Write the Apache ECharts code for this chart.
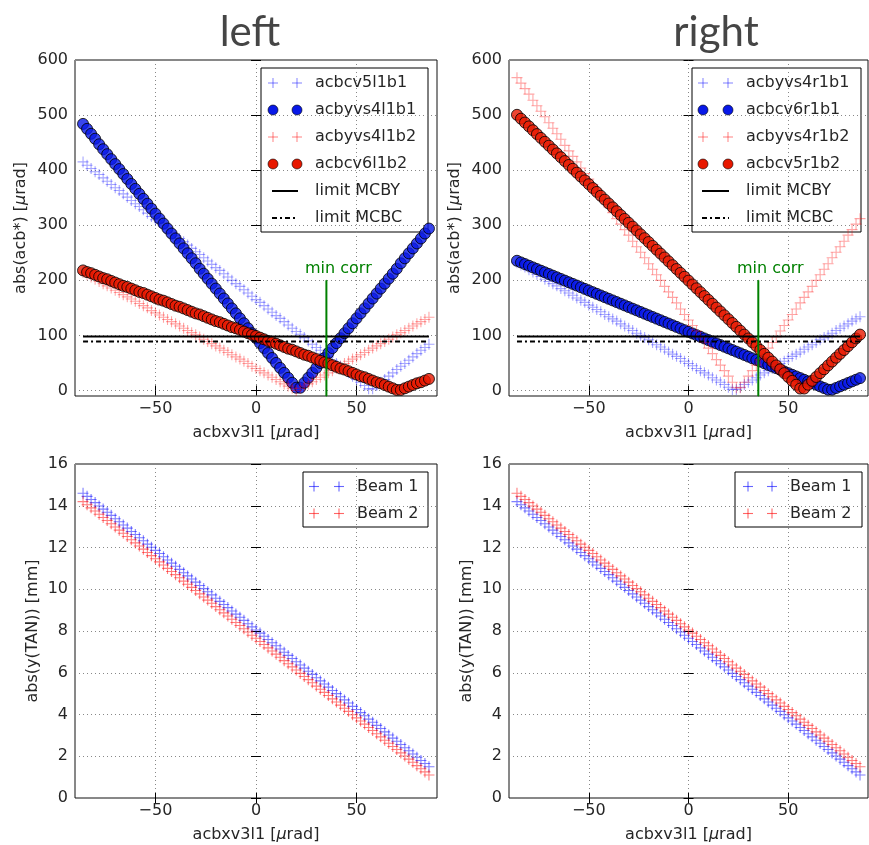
<!DOCTYPE html>
<html>
<head>
<meta charset="utf-8">
<script src="https://cdn.jsdelivr.net/npm/echarts@6/dist/echarts.min.js"></script>
<style>
  html, body { margin: 0; padding: 0; background: #fff; }
  #chart { width: 869px; height: 845px; }
</style>
</head>
<body>
<div id="chart"></div>
<script>
// Scan variable: acbxv3l1 [µrad]
const xValues = [-86,-84,-82,-80,-78,-76,-74,-72,-70,-68,-66,-64,-62,-60,-58,-56,-54,-52,-50,-48,
  -46,-44,-42,-40,-38,-36,-34,-32,-30,-28,-26,-24,-22,-20,-18,-16,-14,-12,-10,-8,-6,-4,-2,
  0,2,4,6,8,10,12,14,16,18,20,22,24,26,28,30,32,34,36,38,40,42,44,46,48,50,52,54,56,58,60,
  62,64,66,68,70,72,74,76,78,80,82,84,86];

// Left side correctors, abs(acb*) [µrad]
const acbcv5l1b1 = [415,409,403,397,392,386,380,374,368,363,
  357,351,345,339,334,328,322,316,310,305,
  299,293,287,281,276,270,264,258,252,247,
  241,235,229,223,218,212,206,200,194,189,
  183,177,171,165,160,154,148,142,136,131,
  125,119,113,107,102,96,90,84,78,73,
  67,61,55,49,44,38,32,26,20,15,
  9,3,
  3,9,15,20,26,32,38,44,49,55,61,67,73,78,84];
const acbyvs4l1b1 = [484,475,466,457,447,438,429,420,411,402,
  393,384,375,366,357,348,339,330,321,312,
  303,294,285,276,267,258,249,240,231,221,
  212,203,194,185,176,167,158,149,140,131,
  122,113,104,95,86,77,68,59,50,41,
  32,23,14,5,
  5,14,23,32,41,50,59,68,77,86,
  95,104,113,122,131,140,149,158,167,176,
  185,194,203,212,221,231,240,249,258,267,
  276,285,294];
const acbyvs4l1b2 = [214,210,206,202,198,194,190,186,182,178,
  174,170,166,162,158,154,150,145,141,137,
  133,129,125,121,117,113,109,105,101,97,
  93,89,85,81,77,73,69,65,61,57,
  53,49,44,40,36,32,28,24,20,16,
  12,8,4,0,
  4,8,12,16,20,24,28,32,36,40,
  44,49,53,57,61,65,69,73,77,81,
  85,89,93,97,101,105,109,113,117,121,
  125,129,133];
const acbcv6l1b2 = [218,215,213,210,207,204,202,199,196,193,
  190,188,185,182,179,177,174,171,168,165,
  163,160,157,154,152,149,146,143,140,138,
  135,132,129,126,124,121,118,115,113,110,
  107,104,101,99,96,93,90,88,85,82,
  79,76,74,71,68,65,63,60,57,54,
  51,49,46,43,40,38,35,32,29,26,
  24,21,18,15,13,10,7,4,1,
  1,4,7,10,13,15,18,21];

// Right side correctors, abs(acb*) [µrad]
const acbyvs4r1b1 = [232,228,224,219,215,211,207,202,198,194,
  190,185,181,177,173,168,164,160,155,151,
  147,143,138,134,130,126,121,117,113,109,
  104,100,96,92,87,83,79,75,70,66,
  62,58,53,49,45,40,36,32,28,23,
  19,15,11,6,2,
  2,6,11,15,19,23,28,32,36,40,
  45,49,53,58,62,66,70,75,79,83,
  87,92,96,100,104,109,113,117,121,126,
  130,134];
const acbcv6r1b1 = [235.5,232.5,229.5,226.5,223.5,220.5,217.5,214.5,211.5,208.5,
  205.5,202.5,199.5,196.5,193.5,190.5,187.5,184.5,181.5,178.5,
  175.5,172.5,169.5,166.5,163.5,160.5,157.5,154.5,151.5,148.5,
  145.5,142.5,139.5,136.5,133.5,130.5,127.5,124.5,121.5,118.5,
  115.5,112.5,109.5,106.5,103.5,100.5,97.5,94.5,91.5,88.5,
  85.5,82.5,79.5,76.5,73.5,70.5,67.5,64.5,61.5,58.5,
  55.5,52.5,49.5,46.5,43.5,40.5,37.5,34.5,31.5,28.5,
  25.5,22.5,19.5,16.5,13.5,10.5,7.5,4.5,1.5,
  1.5,4.5,7.5,10.5,13.5,16.5,19.5,22.5];
const acbyvs4r1b2 = [568,558,548,538,527,517,507,497,486,476,
  466,456,445,435,425,415,404,394,384,374,
  364,353,343,333,323,312,302,292,282,271,
  261,251,241,230,220,210,200,189,179,169,
  159,148,138,128,118,108,97,87,77,67,
  56,46,36,26,15,5,
  5,15,26,36,46,56,67,77,87,97,
  108,118,128,138,148,159,169,179,189,200,
  210,220,230,241,251,261,271,282,292,302,
  312];
const acbcv5r1b2 = [500.5,493.5,486.5,479.5,472.5,465.5,458.5,451.5,444.5,437.5,
  430.5,423.5,416.5,409.5,402.5,395.5,388.5,381.5,374.5,367.5,
  360.5,353.5,346.5,339.5,332.5,325.5,318.5,311.5,304.5,297.5,
  290.5,283.5,276.5,269.5,262.5,255.5,248.5,241.5,234.5,227.5,
  220.5,213.5,206.5,199.5,192.5,185.5,178.5,171.5,164.5,157.5,
  150.5,143.5,136.5,129.5,122.5,115.5,108.5,101.5,94.5,87.5,
  80.5,73.5,66.5,59.5,52.5,45.5,38.5,31.5,24.5,17.5,
  10.5,3.5,
  3.5,10.5,17.5,24.5,31.5,38.5,45.5,52.5,59.5,66.5,73.5,80.5,87.5,94.5,101.5];

// abs(y(TAN)) [mm] for both beams
const beam1Left = [14.60,14.45,14.30,14.15,13.99,13.84,13.69,13.54,13.38,13.23,
  13.08,12.93,12.77,12.62,12.47,12.32,12.16,12.01,11.86,11.71,
  11.56,11.40,11.25,11.10,10.95,10.79,10.64,10.49,10.34,10.18,
  10.03,9.88,9.73,9.57,9.42,9.27,9.12,8.96,8.81,8.66,
  8.51,8.35,8.20,8.05,7.90,7.75,7.59,7.44,7.29,7.14,
  6.98,6.83,6.68,6.53,6.37,6.22,6.07,5.92,5.76,5.61,
  5.46,5.31,5.15,5.00,4.85,4.70,4.55,4.39,4.24,4.09,
  3.94,3.78,3.63,3.48,3.33,3.17,3.02,2.87,2.72,2.56,
  2.41,2.26,2.11,1.95,1.80,1.65,1.50];
const beam2Left = [14.20,14.05,13.90,13.75,13.59,13.44,13.29,13.14,12.98,12.83,
  12.68,12.53,12.37,12.22,12.07,11.92,11.76,11.61,11.46,11.31,
  11.16,11.00,10.85,10.70,10.55,10.39,10.24,10.09,9.94,9.78,
  9.63,9.48,9.33,9.17,9.02,8.87,8.72,8.56,8.41,8.26,
  8.11,7.95,7.80,7.65,7.50,7.35,7.19,7.04,6.89,6.74,
  6.58,6.43,6.28,6.13,5.97,5.82,5.67,5.52,5.36,5.21,
  5.06,4.91,4.75,4.60,4.45,4.30,4.15,3.99,3.84,3.69,
  3.54,3.38,3.23,3.08,2.93,2.77,2.62,2.47,2.32,2.16,
  2.01,1.86,1.71,1.55,1.40,1.25,1.10];
const beam1Right = beam2Left;
const beam2Right = beam1Left;

// Strength limits, minimum-correction setting and scan extent
const limitMCBY = 98;
const limitMCBC = 89;
const minCorr = 35;
const minCorrTop = 200;
const scanExtent = [-86, 86];

// Tick labels
const xTicks = [-50, 0, 50];
const yTicksTop = [0, 100, 200, 300, 400, 500, 600];
const yTicksBottom = [0, 2, 4, 6, 8, 10, 12, 14, 16];

const panelTitles = ['left', 'right'];
const legendTop = [
  ['acbcv5l1b1', 'acbyvs4l1b1', 'acbyvs4l1b2', 'acbcv6l1b2', 'limit MCBY', 'limit MCBC'],
  ['acbyvs4r1b1', 'acbcv6r1b1', 'acbyvs4r1b2', 'acbcv5r1b2', 'limit MCBY', 'limit MCBC']
];
const legendBottom = ['Beam 1', 'Beam 2'];

const FONT = 'DejaVu Sans';
const TXT = '#262626';
const BLUE = '#0000ff';
const RED = '#ff0000';
const DOT_BLUE = '#0818e8';
const DOT_RED = '#e81800';
const GREEN = '#008000';
const PLUS = 'path://M-0.1,-1L0.1,-1L0.1,-0.1L1,-0.1L1,0.1L0.1,0.1L0.1,1L-0.1,1L-0.1,0.1L-1,0.1L-1,-0.1L-0.1,-0.1Z';

const pairs = ys => xValues.map((x, i) => [x, ys[i]]);
const fmtX = v => (v < 0 ? '\u2212' + Math.abs(v) : String(v));

const grids = [
  { left: 75, top: 60, width: 362, height: 336 },
  { left: 509, top: 60, width: 359, height: 336 },
  { left: 75, top: 464, width: 362, height: 334 },
  { left: 509, top: 464, width: 359, height: 334 }
];

const muRich = { mu: { fontStyle: 'italic', fontSize: 16, fontFamily: FONT, color: TXT } };

function mainX(i) {
  return {
    type: 'value', gridIndex: i, min: -90, max: 90,
    name: 'acbxv3l1 [{mu|\u03bc}rad]', nameLocation: 'middle', nameGap: 29,
    nameTextStyle: { fontSize: 16, fontFamily: FONT, color: TXT, rich: muRich },
    axisLine: { show: false },
    axisTick: { show: true, inside: true, length: 5, customValues: xTicks, lineStyle: { color: '#000' } },
    axisLabel: { customValues: xTicks, formatter: fmtX, fontSize: 16, fontFamily: FONT, color: TXT, margin: 5 },
    splitLine: { show: true, lineStyle: { color: '#888', width: 1, type: [1, 3] } }
  };
}
function mirrorX(i) {
  return {
    type: 'value', gridIndex: i, min: -90, max: 90, position: 'top',
    axisLine: { show: false },
    axisTick: { show: true, inside: true, length: 5, customValues: xTicks, lineStyle: { color: '#000' } },
    axisLabel: { show: false, customValues: xTicks },
    splitLine: { show: false }
  };
}
function mainY(i, top) {
  const ticks = top ? yTicksTop : yTicksBottom;
  return {
    type: 'value', gridIndex: i, min: top ? -10 : 0, max: top ? 600 : 16,
    name: top ? 'abs(acb*) [{mu|\u03bc}rad]' : 'abs(y(TAN)) [mm]',
    nameLocation: 'middle', nameRotate: 90, nameGap: top ? 46 : 34,
    nameTextStyle: { fontSize: 16, fontFamily: FONT, color: TXT, rich: muRich },
    axisLine: { show: false },
    axisTick: { show: true, inside: true, length: 5, customValues: ticks, lineStyle: { color: '#000' } },
    axisLabel: { customValues: ticks, fontSize: 16, fontFamily: FONT, color: TXT, margin: 7 },
    splitLine: { show: true, lineStyle: { color: '#888', width: 1, type: [1, 3] } }
  };
}
function mirrorY(i, top) {
  const ticks = top ? yTicksTop : yTicksBottom;
  return {
    type: 'value', gridIndex: i, min: top ? -10 : 0, max: top ? 600 : 16, position: 'right',
    axisLine: { show: false },
    axisTick: { show: true, inside: true, length: 5, customValues: ticks, lineStyle: { color: '#000' } },
    axisLabel: { show: false, customValues: ticks },
    splitLine: { show: false }
  };
}

function plusSeries(i, ys, color, opacity) {
  return {
    type: 'scatter', xAxisIndex: i, yAxisIndex: i, data: pairs(ys),
    symbol: PLUS, symbolSize: 11, silent: true,
    itemStyle: { color: color, opacity: opacity }
  };
}
function dotSeries(i, ys, color) {
  return {
    type: 'scatter', xAxisIndex: i, yAxisIndex: i, data: pairs(ys),
    symbol: 'circle', symbolSize: 11, silent: true,
    itemStyle: { color: color, borderColor: '#000', borderWidth: 1 }
  };
}
function limitSeries(i, value, dash) {
  return {
    type: 'line', xAxisIndex: i, yAxisIndex: i, silent: true, symbol: 'none',
    data: [[scanExtent[0], value], [scanExtent[1], value]],
    lineStyle: { color: '#000', width: 2, type: dash ? [5, 3, 2, 3] : 'solid' }
  };
}
function minCorrSeries(i) {
  return {
    type: 'line', xAxisIndex: i, yAxisIndex: i, silent: true,
    symbol: 'circle', symbolSize: 1, showSymbol: true,
    itemStyle: { color: GREEN },
    data: [[minCorr, -10], {
      value: [minCorr, minCorrTop],
      label: { show: true, position: 'top', distance: 3, offset: [12, 0], formatter: 'min corr',
               color: GREEN, fontSize: 16, fontFamily: FONT }
    }],
    lineStyle: { color: GREEN, width: 2 }
  };
}

const series = [
  plusSeries(0, acbcv5l1b1, BLUE, 0.35),
  dotSeries(0, acbyvs4l1b1, DOT_BLUE),
  plusSeries(0, acbyvs4l1b2, RED, 0.35),
  dotSeries(0, acbcv6l1b2, DOT_RED),
  limitSeries(0, limitMCBY, false),
  limitSeries(0, limitMCBC, true),
  minCorrSeries(0),

  plusSeries(1, acbyvs4r1b1, BLUE, 0.35),
  dotSeries(1, acbcv6r1b1, DOT_BLUE),
  plusSeries(1, acbyvs4r1b2, RED, 0.35),
  dotSeries(1, acbcv5r1b2, DOT_RED),
  limitSeries(1, limitMCBY, false),
  limitSeries(1, limitMCBC, true),
  minCorrSeries(1),

  plusSeries(2, beam1Left, BLUE, 0.5),
  plusSeries(2, beam2Left, RED, 0.5),
  plusSeries(3, beam1Right, BLUE, 0.5),
  plusSeries(3, beam2Right, RED, 0.5)
];

// Legend boxes drawn as graphics (two sample markers per entry)
function plusGlyph(cx, cy, color, opacity) {
  return [
    { type: 'line', shape: { x1: cx - 5, y1: cy, x2: cx + 5, y2: cy }, style: { stroke: color, lineWidth: 1.1, opacity: opacity } },
    { type: 'line', shape: { x1: cx, y1: cy - 5, x2: cx, y2: cy + 5 }, style: { stroke: color, lineWidth: 1.1, opacity: opacity } }
  ];
}
function dotGlyph(cx, cy, color) {
  return [{ type: 'circle', shape: { cx: cx, cy: cy, r: 5 }, style: { fill: color, stroke: '#000', lineWidth: 0.6 } }];
}
function buildLegend(box, mx1, mx2, tx, y0, step, entries) {
  const kids = [{ type: 'rect', shape: box, style: { fill: '#fff', stroke: '#000', lineWidth: 1 } }];
  entries.forEach((e, k) => {
    const y = y0 + k * step;
    if (e.kind === 'plus') {
      kids.push(...plusGlyph(mx1, y, e.color, e.opacity), ...plusGlyph(mx2, y, e.color, e.opacity));
    } else if (e.kind === 'dot') {
      kids.push(...dotGlyph(mx1, y, e.color), ...dotGlyph(mx2, y, e.color));
    } else {
      kids.push({ type: 'line', shape: { x1: mx1 - 1, y1: y, x2: mx2 + 1, y2: y },
        style: { stroke: '#000', lineWidth: 2, lineDash: e.kind === 'dashdot' ? [5, 3, 2, 3] : null } });
    }
    kids.push({ type: 'text', x: tx, y: y,
      style: { text: e.label, fontSize: 16, fontFamily: FONT, fill: TXT, verticalAlign: 'middle', align: 'left' } });
  });
  return { type: 'group', z: 100, children: kids };
}

const topKinds = [
  { kind: 'plus', color: BLUE, opacity: 0.45 },
  { kind: 'dot', color: DOT_BLUE },
  { kind: 'plus', color: RED, opacity: 0.45 },
  { kind: 'dot', color: DOT_RED },
  { kind: 'solid' },
  { kind: 'dashdot' }
];
const botKinds = [
  { kind: 'plus', color: BLUE, opacity: 0.6 },
  { kind: 'plus', color: RED, opacity: 0.6 }
];

const graphic = [
  { type: 'text', x: 250, y: 32, z: 100,
    style: { text: panelTitles[0], fontSize: 42, fontFamily: 'Lato', fill: '#454545', align: 'center', verticalAlign: 'middle' } },
  { type: 'text', x: 716, y: 32, z: 100,
    style: { text: panelTitles[1], fontSize: 42, fontFamily: 'Lato', fill: '#454545', align: 'center', verticalAlign: 'middle' } },
  buildLegend({ x: 261, y: 68, width: 167, height: 164 }, 273, 297, 315, 83, 27,
    legendTop[0].map((t, k) => Object.assign({ label: t }, topKinds[k]))),
  buildLegend({ x: 692, y: 68, width: 169, height: 164 }, 703, 728, 746, 83, 27,
    legendTop[1].map((t, k) => Object.assign({ label: t }, topKinds[k]))),
  buildLegend({ x: 303, y: 472, width: 125, height: 55 }, 314, 339, 357, 486.5, 27,
    legendBottom.map((t, k) => Object.assign({ label: t }, botKinds[k]))),
  buildLegend({ x: 735, y: 472, width: 127, height: 55 }, 748, 772, 790, 486.5, 27,
    legendBottom.map((t, k) => Object.assign({ label: t }, botKinds[k])))
];

const chart = echarts.init(document.getElementById('chart'), null, { renderer: 'canvas' });
chart.setOption({
  animation: false,
  backgroundColor: '#fff',
  grid: grids.map(g => Object.assign({ show: true, borderColor: '#111', borderWidth: 1, backgroundColor: 'transparent', containLabel: false, outerBoundsMode: 'none' }, g)),
  xAxis: [mainX(0), mainX(1), mainX(2), mainX(3), mirrorX(0), mirrorX(1), mirrorX(2), mirrorX(3)],
  yAxis: [mainY(0, true), mainY(1, true), mainY(2, false), mainY(3, false),
          mirrorY(0, true), mirrorY(1, true), mirrorY(2, false), mirrorY(3, false)],
  series: series,
  graphic: graphic
});
</script>
</body>
</html>
